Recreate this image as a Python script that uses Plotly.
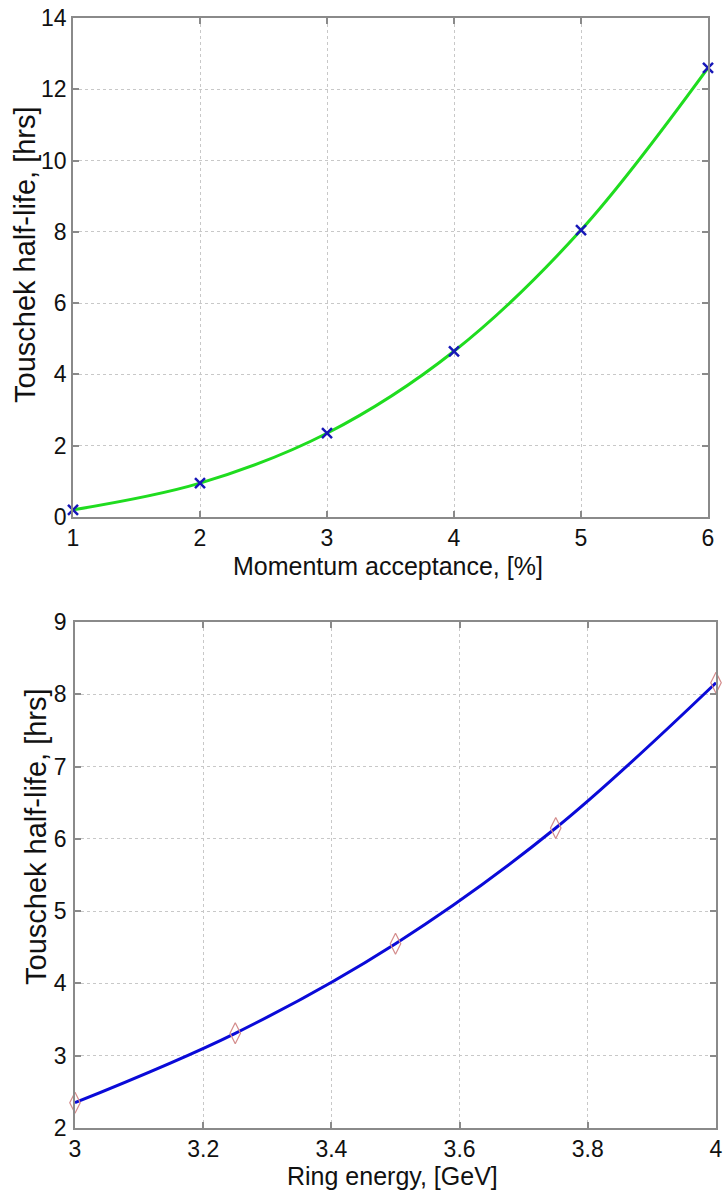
import plotly.graph_objects as go

# Touschek half-life vs. momentum acceptance
acceptance_pct = [1, 2, 3, 4, 5, 6]
lifetime_vs_acc = [0.2, 0.95, 2.35, 4.65, 8.05, 12.6]

# Touschek half-life vs. ring energy
ring_energy_gev = [3.0, 3.25, 3.5, 3.75, 4.0]
lifetime_vs_energy = [2.35, 3.31, 4.55, 6.15, 8.16]

top_xticks = [1, 2, 3, 4, 5, 6]
top_yticks = [0, 2, 4, 6, 8, 10, 12, 14]
bot_xticks = [3, 3.2, 3.4, 3.6, 3.8, 4]
bot_xticklabels = ["3", "3.2", "3.4", "3.6", "3.8", "4"]
bot_yticks = [2, 3, 4, 5, 6, 7, 8, 9]

W, H = 723, 1190
FONT = "Liberation Sans, Arial, Helvetica, sans-serif"
AXIS_COLOR = "#8a8a8a"
GRID_COLOR = "#c8c8c8"

fig = go.Figure()

fig.add_trace(go.Scatter(
    x=acceptance_pct, y=lifetime_vs_acc, mode="lines",
    line=dict(color="#1fdc1f", width=3, shape="spline", smoothing=1.0),
    xaxis="x", yaxis="y", showlegend=False, hoverinfo="skip"))
fig.add_trace(go.Scatter(
    x=acceptance_pct, y=lifetime_vs_acc, mode="markers",
    marker=dict(symbol="x-thin", size=10, line=dict(color="#1818b8", width=2.5)),
    xaxis="x", yaxis="y", showlegend=False, cliponaxis=False))

fig.add_trace(go.Scatter(
    x=ring_energy_gev, y=lifetime_vs_energy, mode="lines",
    line=dict(color="#0a0ad8", width=3, shape="spline", smoothing=1.0),
    xaxis="x2", yaxis="y2", showlegend=False, hoverinfo="skip"))
fig.add_trace(go.Scatter(
    x=ring_energy_gev, y=lifetime_vs_energy, mode="markers",
    marker=dict(symbol="diamond-tall-open", size=15, color="#d48c8c",
                line=dict(color="#d48c8c", width=1.2)),
    xaxis="x2", yaxis="y2", showlegend=False, cliponaxis=False))


def px_x(p):
    return p / W


def px_y(p):
    return 1 - p / H


axis_common = dict(
    showline=True, linecolor=AXIS_COLOR, linewidth=1.5, mirror="ticks",
    ticks="inside", ticklen=6, tickwidth=1.5, tickcolor=AXIS_COLOR,
    showgrid=True, gridcolor=GRID_COLOR, griddash="dot", gridwidth=1,
    zeroline=False, automargin=False,
    tickfont=dict(family=FONT, size=23, color="#111111"),
)

fig.update_layout(
    width=W, height=H,
    margin=dict(l=0, r=0, t=0, b=0),
    paper_bgcolor="white", plot_bgcolor="white",
    font=dict(family=FONT, color="#111111"),
    xaxis=dict(domain=[px_x(73), px_x(708)], range=[1, 6],
               tickvals=top_xticks, anchor="y", **axis_common),
    yaxis=dict(domain=[px_y(517), px_y(18)], range=[0, 14],
               tickvals=top_yticks, anchor="x", **axis_common),
    xaxis2=dict(domain=[px_x(75), px_x(716)], range=[3, 4],
                tickvals=bot_xticks, ticktext=bot_xticklabels,
                anchor="y2", **axis_common),
    yaxis2=dict(domain=[px_y(1128), px_y(622)], range=[2, 9],
                tickvals=bot_yticks, anchor="x2", ticklabelstandoff=2,
                **axis_common),
)

title_font = dict(family=FONT, size=25, color="#111111")
ytitle_font = dict(family=FONT, size=29, color="#111111")
fig.add_annotation(text="Momentum acceptance, [%]", xref="paper", yref="paper",
                   x=px_x(388), y=px_y(550), xanchor="center", yanchor="top",
                   showarrow=False, font=title_font)
fig.add_annotation(text="Touschek half-life, [hrs]", xref="paper", yref="paper",
                   x=px_x(25), y=px_y(255), xanchor="center", yanchor="middle",
                   textangle=-90, showarrow=False, font=ytitle_font)
fig.add_annotation(text="Ring energy, [GeV]", xref="paper", yref="paper",
                   x=px_x(393), y=px_y(1160), xanchor="center", yanchor="top",
                   showarrow=False, font=title_font)
fig.add_annotation(text="Touschek half-life, [hrs]", xref="paper", yref="paper",
                   x=px_x(36), y=px_y(837), xanchor="center", yanchor="middle",
                   textangle=-90, showarrow=False, font=ytitle_font)

fig.write_html("out.html")
